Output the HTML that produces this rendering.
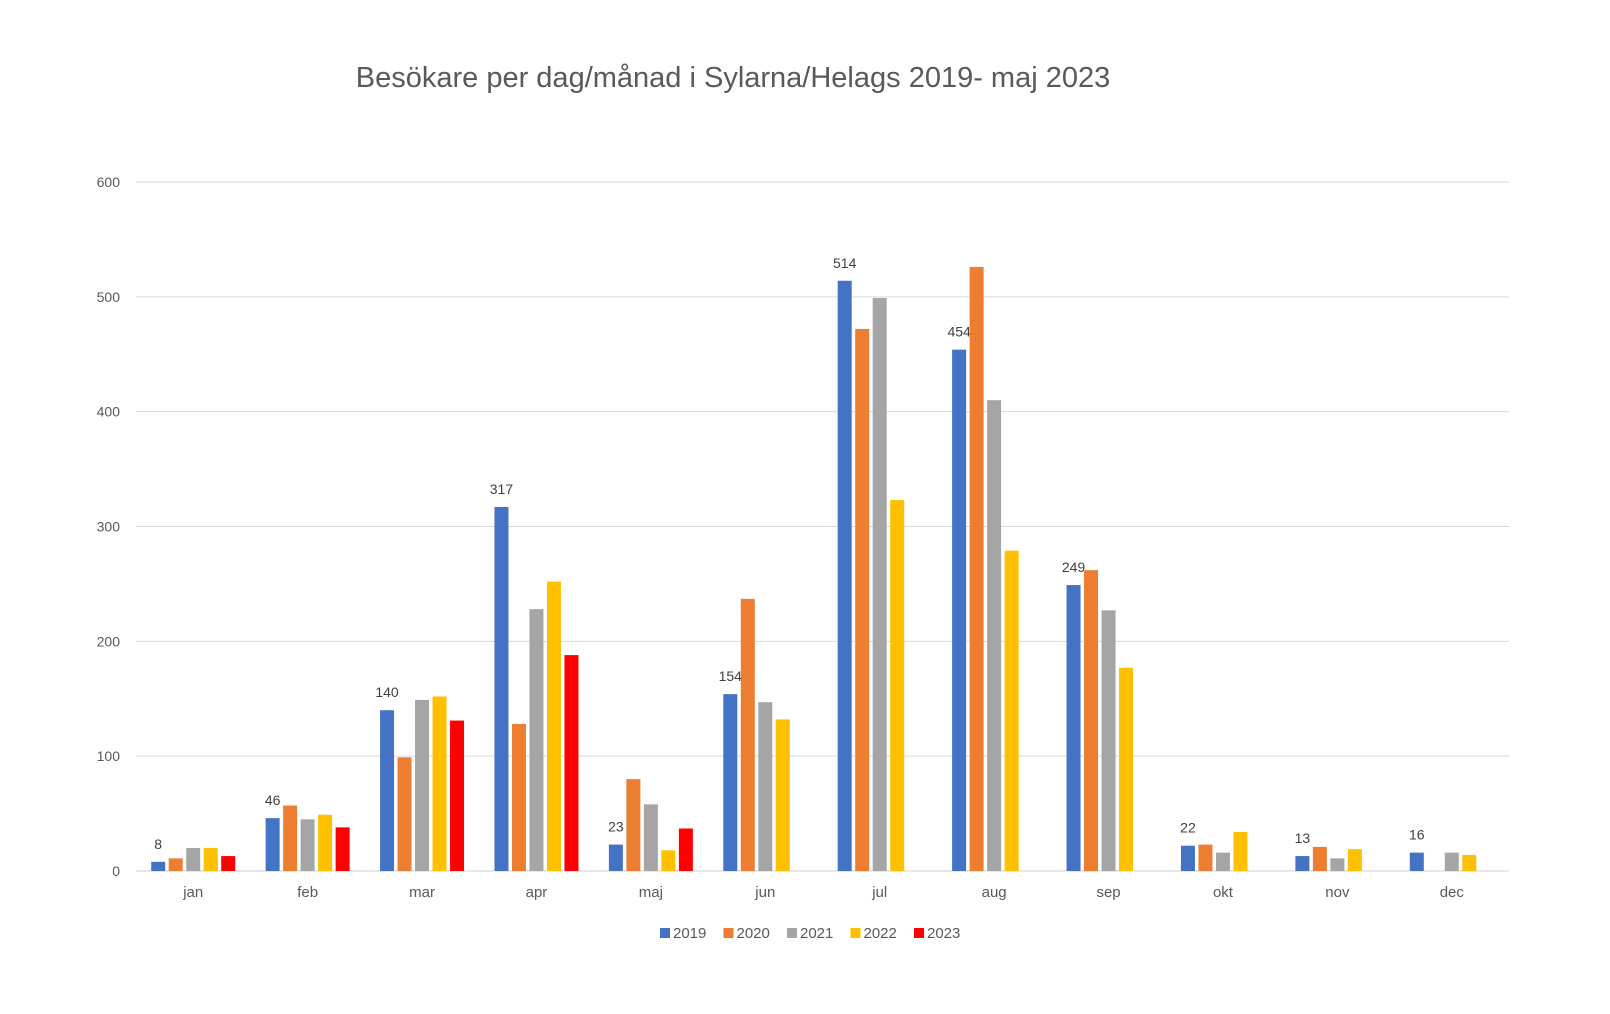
<!DOCTYPE html>
<html><head><meta charset="utf-8"><style>
body{margin:0;background:#fff;}
svg{display:block;font-family:"Liberation Sans",sans-serif;}
</style></head><body>
<svg id="chart" width="1610" height="1014" viewBox="0 0 1610 1014">
<text x="733" y="87" text-anchor="middle" font-size="29" fill="#595959">Besökare per dag/månad i Sylarna/Helags 2019- maj 2023</text>
<g id="grid"></g><g id="bars"></g><g id="labels"></g><g id="legend"></g>
</svg>
<script>
const categories=["jan","feb","mar","apr","maj","jun","jul","aug","sep","okt","nov","dec"];
const seriesNames=["2019","2020","2021","2022","2023"];
const s2019=[8,46,140,317,23,154,514,454,249,22,13,16];
const s2020=[11,57,99,128,80,237,472,526,262,23,21,null];
const s2021=[20,45,149,228,58,147,499,410,227,16,11,16];
const s2022=[20,49,152,252,18,132,323,279,177,34,19,14];
const s2023=[13,38,131,188,37,null,null,null,null,null,null,null];
const yTicks=[0,100,200,300,400,500,600];
const colors=["#4472C4","#ED7D31","#A5A5A5","#FFC000","#FF0000"];
const series=[s2019,s2020,s2021,s2022,s2023];
const NS="http://www.w3.org/2000/svg";
const L=136,R=1509,T=182,B=871,yMax=600;
const y=v=>B-(v/yMax)*(B-T);
const band=(R-L)/categories.length;
const bw=14,pitch=17.5;
const x=(ci,si)=>L+ci*band+band/2-(5*pitch)/2+si*pitch+(pitch-bw)/2;
function mk(tag,attrs,parent){const e=document.createElementNS(NS,tag);for(const k in attrs)e.setAttribute(k,attrs[k]);parent.appendChild(e);return e;}
const grid=document.getElementById('grid');
yTicks.forEach(t=>{
 const l=mk('line',{x1:L,x2:R,y1:y(t),y2:y(t),stroke:t===0?'#d0d0d0':'#d9d9d9','stroke-width':1},grid);
 
 
 const tx=mk('text',{x:120,y:y(t)+5,'text-anchor':'end','font-size':14,fill:'#595959'},grid);
 tx.textContent=t;
 
 
});
const bars=document.getElementById('bars'),labels=document.getElementById('labels');
categories.forEach((c,ci)=>{
 const t=mk('text',{x:L+ci*band+band/2,y:y(0)+26,'text-anchor':'middle','font-size':15,fill:'#595959'},labels);
 t.textContent=c;
 
 
 series.forEach((s,si)=>{
  const v=s[ci]; if(v==null) return;
  const r=mk('rect',{x:x(ci,si),y:y(v),width:bw,height:y(0)-y(v),fill:colors[si]},bars);
  
  
  if(si===0){
   const lt=mk('text',{x:x(ci,si)+bw/2,y:y(v)-13,'text-anchor':'middle','font-size':14,fill:'#404040'},labels);
   lt.textContent=v;
   
   
  }
 });
});
const lg=document.getElementById('legend');
let lx=660;
seriesNames.forEach((n,i)=>{
 const g=mk('g',{},lg);
 
 
 mk('rect',{x:lx,y:928,width:10,height:10,fill:colors[i]},g);
 const t=mk('text',{x:lx+13,y:938,'font-size':15,fill:'#595959'},g);
 t.textContent=n;
 lx+=63.5;
});
</script>
</body></html>
